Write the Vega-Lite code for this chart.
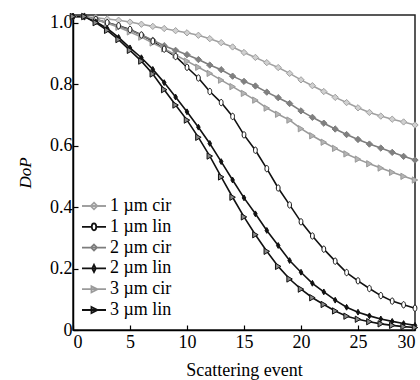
{
  "$schema": "https://vega.github.io/schema/vega-lite/v6.json",
  "width": 342,
  "height": 315,
  "autosize": {"type": "none"},
  "padding": {"left": 73, "top": 15, "right": 5, "bottom": 50},
  "background": "white",
  "config": {
    "view": {"stroke": "#222", "strokeWidth": 1.5},
    "axis": {
      "grid": false,
      "domainColor": "#000",
      "domainWidth": 1.5,
      "tickColor": "#000",
      "tickWidth": 1.2,
      "tickSize": -5,
      "labelFont": "Liberation Serif",
      "labelFontSize": 18,
      "labelColor": "#000",
      "titleFont": "Liberation Serif",
      "titleFontSize": 18,
      "titleColor": "#000",
      "titleFontWeight": "normal"
    },
    "legend": {
      "labelFont": "Liberation Serif",
      "labelFontSize": 18,
      "labelColor": "#000"
    }
  },
  "data": {
    "values": [
      {"x":0,"1 µm cir":1.02,"1 µm lin":1.02,"2 µm cir":1.02,"2 µm lin":1.02,"3 µm cir":1.02,"3 µm lin":1.02},
      {"x":1,"1 µm cir":1.02,"1 µm lin":1.02,"2 µm cir":1.02,"2 µm lin":1.02,"3 µm cir":1.02,"3 µm lin":1.02},
      {"x":2,"1 µm cir":1.016,"1 µm lin":1.01,"2 µm cir":1.012,"2 µm lin":1.003,"3 µm cir":1.01,"3 µm lin":1.0},
      {"x":3,"1 µm cir":1.012,"1 µm lin":1.0,"2 µm cir":1.0,"2 µm lin":0.981,"3 µm cir":0.998,"3 µm lin":0.975},
      {"x":4,"1 µm cir":1.008,"1 µm lin":0.99,"2 µm cir":0.988,"2 µm lin":0.952,"3 µm cir":0.985,"3 µm lin":0.945},
      {"x":5,"1 µm cir":1.002,"1 µm lin":0.978,"2 µm cir":0.976,"2 µm lin":0.918,"3 µm cir":0.97,"3 µm lin":0.91},
      {"x":6,"1 µm cir":0.995,"1 µm lin":0.96,"2 µm cir":0.96,"2 µm lin":0.886,"3 µm cir":0.953,"3 µm lin":0.875},
      {"x":7,"1 µm cir":0.988,"1 µm lin":0.94,"2 µm cir":0.943,"2 µm lin":0.848,"3 µm cir":0.934,"3 µm lin":0.833},
      {"x":8,"1 µm cir":0.981,"1 µm lin":0.914,"2 µm cir":0.925,"2 µm lin":0.805,"3 µm cir":0.915,"3 µm lin":0.782},
      {"x":9,"1 µm cir":0.974,"1 µm lin":0.89,"2 µm cir":0.91,"2 µm lin":0.758,"3 µm cir":0.895,"3 µm lin":0.732},
      {"x":10,"1 µm cir":0.967,"1 µm lin":0.855,"2 µm cir":0.896,"2 µm lin":0.71,"3 µm cir":0.875,"3 µm lin":0.683},
      {"x":11,"1 µm cir":0.959,"1 µm lin":0.82,"2 µm cir":0.88,"2 µm lin":0.66,"3 µm cir":0.855,"3 µm lin":0.627},
      {"x":12,"1 µm cir":0.948,"1 µm lin":0.776,"2 µm cir":0.862,"2 µm lin":0.607,"3 µm cir":0.835,"3 µm lin":0.566},
      {"x":13,"1 µm cir":0.935,"1 µm lin":0.74,"2 µm cir":0.847,"2 µm lin":0.548,"3 µm cir":0.813,"3 µm lin":0.498},
      {"x":14,"1 µm cir":0.921,"1 µm lin":0.695,"2 µm cir":0.826,"2 µm lin":0.488,"3 µm cir":0.792,"3 µm lin":0.432},
      {"x":15,"1 µm cir":0.903,"1 µm lin":0.635,"2 µm cir":0.809,"2 µm lin":0.43,"3 µm cir":0.77,"3 µm lin":0.368},
      {"x":16,"1 µm cir":0.887,"1 µm lin":0.585,"2 µm cir":0.794,"2 µm lin":0.378,"3 µm cir":0.748,"3 µm lin":0.31},
      {"x":17,"1 µm cir":0.87,"1 µm lin":0.525,"2 µm cir":0.774,"2 µm lin":0.324,"3 µm cir":0.722,"3 µm lin":0.256},
      {"x":18,"1 µm cir":0.854,"1 µm lin":0.462,"2 µm cir":0.756,"2 µm lin":0.275,"3 µm cir":0.702,"3 µm lin":0.207},
      {"x":19,"1 µm cir":0.835,"1 µm lin":0.407,"2 µm cir":0.737,"2 µm lin":0.226,"3 µm cir":0.683,"3 µm lin":0.166},
      {"x":20,"1 µm cir":0.814,"1 µm lin":0.352,"2 µm cir":0.713,"2 µm lin":0.188,"3 µm cir":0.655,"3 µm lin":0.133},
      {"x":21,"1 µm cir":0.795,"1 µm lin":0.306,"2 µm cir":0.692,"2 µm lin":0.152,"3 µm cir":0.632,"3 µm lin":0.105},
      {"x":22,"1 µm cir":0.776,"1 µm lin":0.263,"2 µm cir":0.673,"2 µm lin":0.124,"3 µm cir":0.611,"3 µm lin":0.083},
      {"x":23,"1 µm cir":0.757,"1 µm lin":0.224,"2 µm cir":0.654,"2 µm lin":0.097,"3 µm cir":0.591,"3 µm lin":0.062},
      {"x":24,"1 µm cir":0.74,"1 µm lin":0.187,"2 µm cir":0.636,"2 µm lin":0.074,"3 µm cir":0.573,"3 µm lin":0.045},
      {"x":25,"1 µm cir":0.723,"1 µm lin":0.16,"2 µm cir":0.62,"2 µm lin":0.058,"3 µm cir":0.556,"3 µm lin":0.035},
      {"x":26,"1 µm cir":0.708,"1 µm lin":0.135,"2 µm cir":0.605,"2 µm lin":0.046,"3 µm cir":0.541,"3 µm lin":0.027},
      {"x":27,"1 µm cir":0.696,"1 µm lin":0.112,"2 µm cir":0.592,"2 µm lin":0.036,"3 µm cir":0.527,"3 µm lin":0.02},
      {"x":28,"1 µm cir":0.686,"1 µm lin":0.094,"2 µm cir":0.578,"2 µm lin":0.028,"3 µm cir":0.513,"3 µm lin":0.015},
      {"x":29,"1 µm cir":0.677,"1 µm lin":0.082,"2 µm cir":0.565,"2 µm lin":0.021,"3 µm cir":0.5,"3 µm lin":0.011},
      {"x":30,"1 µm cir":0.667,"1 µm lin":0.071,"2 µm cir":0.553,"2 µm lin":0.015,"3 µm cir":0.488,"3 µm lin":0.008}
    ]
  },
  "transform": [
    {"fold": ["1 µm cir","1 µm lin","2 µm cir","2 µm lin","3 µm cir","3 µm lin"], "as": ["s","v"]}
  ],
  "encoding": {
    "x": {
      "field": "x", "type": "quantitative",
      "scale": {"domain": [0, 30], "nice": false},
      "axis": {"values": [0,5,10,15,20,25,30], "title": "Scattering event", "labelPadding": 8, "titlePadding": 10}
    },
    "y": {
      "field": "v", "type": "quantitative",
      "scale": {"domain": [0, 1.025], "nice": false},
      "axis": {"values": [0,0.2,0.4,0.6,0.8,1.0], "labelExpr": "datum.value == 0 ? '0' : format(datum.value, '.1f')", "title": "DoP", "titleFontStyle": "italic", "titleFontSize": 17, "labelPadding": 6, "titlePadding": 15}
    }
  },
  "layer": [
    {
      "mark": {"type": "line", "strokeWidth": 1.6},
      "encoding": {
        "color": {
          "field": "s", "type": "nominal",
          "scale": {"domain": ["1 µm cir","1 µm lin","2 µm cir","2 µm lin","3 µm cir","3 µm lin"], "range": ["#a0a0a0","#111111","#7d7d7d","#111111","#9a9a9a","#111111"]},
          "legend": {
            "title": null,
            "orient": "none",
            "legendX": 12,
            "legendY": 182,
            "padding": 0,
            "symbolSize": 144,
            "symbolStrokeWidth": 1.8,
            "symbolOpacity": 1,
            "rowPadding": 2.8,
            "labelOffset": 7,
            "labelFont": "Liberation Serif",
            "labelFontSize": 18,
            "labelColor": "#000"
          }
        }
      }
    },
    {
      "mark": {"type": "point", "opacity": 0, "filled": false},
      "encoding": {
        "color": {"field": "s", "type": "nominal"},
        "fill": {
          "field": "s", "type": "nominal",
          "scale": {"domain": ["1 µm cir","1 µm lin","2 µm cir","2 µm lin","3 µm cir","3 µm lin"], "range": ["#d0d0d0","#ffffff","#808080","#111111","#b4b4b4","#888888"]}
        },
        "shape": {
          "field": "s", "type": "nominal",
          "scale": {"domain": ["1 µm cir","1 µm lin","2 µm cir","2 µm lin","3 µm cir","3 µm lin"], "range": [
            "M-2,0H2M0,-0.55L0.55,0L0,0.55L-0.55,0Z",
            "M-2,0H-0.37M0.37,0H2M0.37,0A0.37,0.58 0 1,1 -0.37,0A0.37,0.58 0 1,1 0.37,0Z",
            "M-2,0H2M0,-0.5L0.5,0L0,0.5L-0.5,0Z",
            "M-2,0H2M0,-0.6L0.3,0L0,0.6L-0.3,0Z",
            "M-2,0H2M-0.42,-0.5L0.58,0L-0.42,0.5Z",
            "M-2,0H2M-0.42,-0.5L0.58,0L-0.42,0.5Z"
          ]}
        }
      }
    },
    {
      "transform": [{"filter": {"field": "s", "equal": "1 µm cir"}}],
      "mark": {"type": "point", "shape": "diamond", "size": 40, "filled": true, "fill": "#d0d0d0", "stroke": "#a0a0a0", "strokeWidth": 1, "opacity": 1}
    },
    {
      "transform": [{"filter": {"field": "s", "equal": "2 µm cir"}}],
      "mark": {"type": "point", "shape": "diamond", "size": 40, "filled": true, "fill": "#808080", "stroke": "#7d7d7d", "strokeWidth": 1, "opacity": 1}
    },
    {
      "transform": [{"filter": {"field": "s", "equal": "3 µm cir"}}],
      "mark": {"type": "point", "shape": "triangle-right", "size": 40, "filled": true, "fill": "#b4b4b4", "stroke": "#9a9a9a", "strokeWidth": 1, "opacity": 1}
    },
    {
      "transform": [{"filter": {"field": "s", "equal": "1 µm lin"}}],
      "mark": {"type": "point", "shape": "M0.6,0A0.6,1 0 1,1 -0.6,0A0.6,1 0 1,1 0.6,0Z", "size": 40, "filled": true, "fill": "#ffffff", "stroke": "#111111", "strokeWidth": 1, "opacity": 1}
    },
    {
      "transform": [{"filter": {"field": "s", "equal": "2 µm lin"}}],
      "mark": {"type": "point", "shape": "M0,-1L0.6,0L0,1L-0.6,0Z", "size": 34, "filled": true, "fill": "#111111", "stroke": "#111111", "strokeWidth": 1, "opacity": 1}
    },
    {
      "transform": [{"filter": {"field": "s", "equal": "3 µm lin"}}],
      "mark": {"type": "point", "shape": "triangle-right", "size": 40, "filled": true, "fill": "#888888", "stroke": "#111111", "strokeWidth": 1, "opacity": 1}
    }
  ]
}
